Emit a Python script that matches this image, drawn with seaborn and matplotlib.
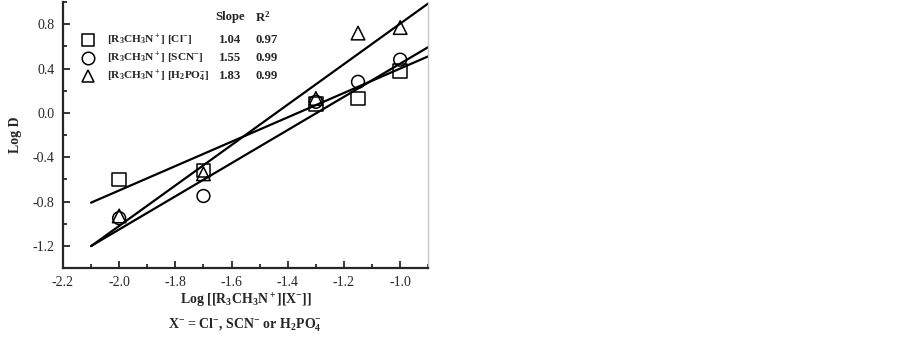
import numpy as np
import pandas as pd
import seaborn as sns
import matplotlib.pyplot as plt
from matplotlib.ticker import MultipleLocator

# data
log_conc = [-2.0, -1.7, -1.3, -1.15, -1.0]
logd_cl = [-0.60, -0.52, 0.08, 0.13, 0.38]
logd_scn = [-0.95, -0.75, 0.10, 0.28, 0.48]
logd_h2po4 = [-0.93, -0.55, 0.13, 0.72, 0.77]

# fitted lines (drawn slope / intercept) and reported values
fit_slope = [1.10, 1.496, 1.825]
fit_intercept = [1.50, 1.94, 2.63]
fit_range = [-2.1, -0.9]
slope_labels = ["1.04", "1.55", "1.83"]
r2_labels = ["0.97", "0.99", "0.99"]
series_labels = [r"[R$_3$CH$_3$N$^+$] [Cl$^{-}$]",
                 r"[R$_3$CH$_3$N$^+$] [SCN$^{-}$]",
                 r"[R$_3$CH$_3$N$^+$] [H$_2$PO$_4^{-}$]"]
series_markers = ["s", "o", "^"]


def main():
    sns.set_style("ticks")
    plt.rcParams["font.family"] = ["Liberation Serif", "DejaVu Serif"]
    plt.rcParams["mathtext.fontset"] = "custom"
    plt.rcParams["mathtext.rm"] = "Liberation Serif:bold"
    plt.rcParams["mathtext.it"] = "Liberation Serif:bold"
    plt.rcParams["mathtext.bf"] = "Liberation Serif:bold"
    plt.rcParams["mathtext.default"] = "rm"

    fig = plt.figure(figsize=(9.02, 3.41), dpi=100)
    ax = fig.add_axes([0.0698, 0.214, 0.405, 0.780])

    all_y = [logd_cl, logd_scn, logd_h2po4]
    for ys, mk, b, a in zip(all_y, series_markers, fit_slope, fit_intercept):
        df = pd.DataFrame({"x": log_conc, "y": ys})
        sns.scatterplot(data=df, x="x", y="y", marker=mk, s=95 if mk != "o" else 85,
                        facecolors="none", edgecolor="black", linewidth=1.1,
                        ax=ax, zorder=3)
        xf = np.array(fit_range)
        line = pd.DataFrame({"x": xf, "y": a + b * xf})
        sns.lineplot(data=line, x="x", y="y", color="black", linewidth=1.6, ax=ax)

    ax.set_xlim(-2.2, -0.9)
    ax.set_ylim(-1.4, 1.0)
    ax.xaxis.set_major_locator(MultipleLocator(0.2))
    ax.xaxis.set_minor_locator(MultipleLocator(0.1))
    ax.yaxis.set_major_locator(MultipleLocator(0.4))
    ax.yaxis.set_minor_locator(MultipleLocator(0.2))
    ax.tick_params(which="both", direction="in", width=1.3, labelsize=10, pad=6)
    ax.tick_params(which="major", length=5)
    ax.tick_params(which="minor", length=3)
    ax.set_xticklabels([f"{v:.1f}" for v in ax.get_xticks()])
    ax.set_yticklabels([f"{v:.1f}" for v in ax.get_yticks()])
    ax.set_xlim(-2.2, -0.9)
    ax.set_ylim(-1.4, 1.0)

    for side in ["left", "bottom"]:
        ax.spines[side].set_linewidth(1.6)
    ax.spines["top"].set_visible(False)
    ax.spines["right"].set_color("#c8c8c8")
    ax.spines["right"].set_linewidth(1.0)

    ax.set_xlabel(r"Log [[R$_3$CH$_3$N$^+$][X$^{-}$]]", fontsize=10,
                  fontweight="bold", labelpad=2)
    ax.set_ylabel("Log D", fontsize=10, fontweight="bold", labelpad=8)

    # legend table
    fs = 9.2
    fs_lab = 8.2
    ax.text(0.418, 0.944, "Slope", transform=ax.transAxes, fontsize=fs,
            fontweight="bold", va="center")
    ax.text(0.526, 0.944, r"R$^2$", transform=ax.transAxes, fontsize=fs,
            fontweight="bold", va="center")
    rows_y = [0.857, 0.789, 0.722]
    for ry, mk, lab, sl, r2 in zip(rows_y, series_markers, series_labels,
                                    slope_labels, r2_labels):
        ax.plot([0.068], [ry], marker=mk, markersize=9, markerfacecolor="none",
                markeredgecolor="black", markeredgewidth=1.1,
                transform=ax.transAxes, clip_on=False)
        ax.text(0.12, ry, lab, transform=ax.transAxes, fontsize=fs_lab,
                fontweight="bold", va="center")
        ax.text(0.428, ry, sl, transform=ax.transAxes, fontsize=fs,
                fontweight="bold", va="center")
        ax.text(0.526, ry, r2, transform=ax.transAxes, fontsize=fs,
                fontweight="bold", va="center")

    fig.text(0.272, 0.045, r"X$^{-}$ = Cl$^{-}$, SCN$^{-}$ or H$_2$PO$_4^{-}$",
             ha="center", va="center", fontsize=10, fontweight="bold")

    fig.savefig("out.png", dpi=100)


if __name__ == "__main__":
    main()
